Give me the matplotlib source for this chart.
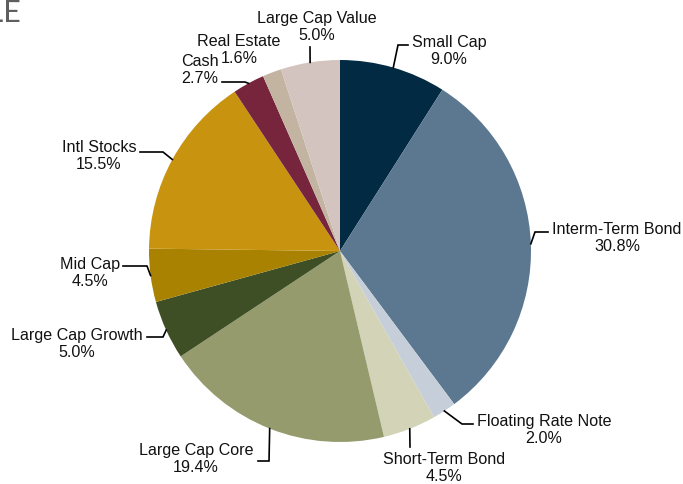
"""
Asset allocation pie chart with leader-line labels.
"""

import matplotlib
matplotlib.use("Agg")
import matplotlib.pyplot as plt
import numpy as np

W, H = 683, 485

categories = [
    "Small Cap", "Interm-Term Bond", "Floating Rate Note", "Short-Term Bond",
    "Large Cap Core", "Large Cap Growth", "Mid Cap", "Intl Stocks",
    "Cash", "Real Estate", "Large Cap Value",
]
weights = [9.0, 30.8, 2.0, 4.5, 19.4, 5.0, 4.5, 15.5, 2.7, 1.6, 5.0]
colors = [
    "#022A42", "#5B7890", "#C6CFD9", "#D2D3B7",
    "#969B6E", "#3E4F25", "#A88200", "#C8940F",
    "#76253D", "#C3B4A1", "#D4C4BF",
]

# label layout in pixel coords (top-left origin): text centre, elbow, end
label_layout = {
    "Small Cap":          ((449, 51), (398, 46), (408, 46)),
    "Interm-Term Bond":   ((617, 238), (535, 233), (548, 233)),
    "Floating Rate Note": ((544, 430), (462, 425), (473, 425)),
    "Short-Term Bond":    ((444, 468), (410, 448), (410, 448)),
    "Large Cap Core":     ((196, 459), (269, 462), (258, 462)),
    "Large Cap Growth":   ((77, 344), (163, 338), (147, 338)),
    "Mid Cap":            ((90, 273), (147, 267), (123, 267)),
    "Intl Stocks":        ((99, 156), (163, 153), (140, 153)),
    "Cash":               ((200, 70), (245, 83), (222, 83)),
    "Real Estate":        ((239, 50), None, None),
    "Large Cap Value":    ((317, 27), (310, 48), (310, 48)),
}

CENTER = (340, 252)
RADIUS = 191

plt.rcParams["font.family"] = ["Liberation Sans", "DejaVu Sans"]


def px(x, y):
    return x, H - y


fig = plt.figure(figsize=(W / 100, H / 100), dpi=100)
ax = fig.add_axes([0, 0, 1, 1])

wedges, _ = ax.pie(
    weights, colors=colors, startangle=90, counterclock=False,
    center=px(*CENTER), radius=RADIUS, frame=True,
    wedgeprops=dict(edgecolor="none", linewidth=0),
)
ax.set_xlim(0, W)
ax.set_ylim(0, H)
ax.set_aspect("equal")
ax.axis("off")

for wedge, cat, val in zip(wedges, categories, weights):
    (tx, ty), elbow, end = label_layout[cat]
    ax.text(*px(tx, ty), f"{cat}\n{val:.1f}%", ha="center", va="center",
            fontsize=11.6, color="#111", linespacing=1.15)
    if elbow is None:
        continue
    mid = np.deg2rad((wedge.theta1 + wedge.theta2) / 2)
    cx, cy = wedge.center
    sx = cx + wedge.r * np.cos(mid)
    sy = cy + wedge.r * np.sin(mid)
    ex, ey = px(*elbow)
    hx, hy = px(*end)
    ax.plot([sx, ex, hx], [sy, ey, hy], color="black", linewidth=1.2,
            solid_joinstyle="miter")

# clipped title fragment at top-left
fig.text(21 / W, 1 - 22 / H, "SAMPLE", ha="right", va="baseline",
         fontsize=22, color="#5f5f5f", family=["Lato", "DejaVu Sans"])

fig.savefig("out.png", dpi=100)
